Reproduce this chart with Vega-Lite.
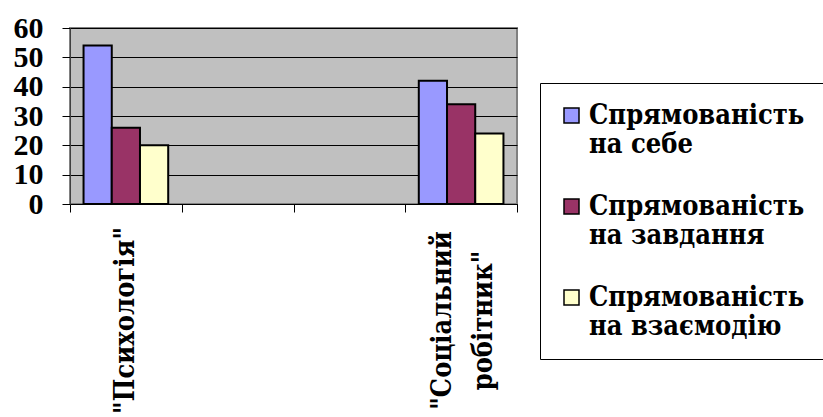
{
  "$schema": "https://vega.github.io/schema/vega-lite/v6.json",
  "width": 447,
  "height": 176,
  "autosize": {"type": "none"},
  "padding": {"left": 70, "top": 28, "right": 306, "bottom": 213},
  "background": "white",
  "data": {
    "values": [
      {"group": "\"Психологія\"", "series": "Спрямованість на себе", "value": 54},
      {"group": "\"Психологія\"", "series": "Спрямованість на завдання", "value": 26},
      {"group": "\"Психологія\"", "series": "Спрямованість на взаємодію", "value": 20},
      {"group": "\"Соціальний робітник\"", "series": "Спрямованість на себе", "value": 42},
      {"group": "\"Соціальний робітник\"", "series": "Спрямованість на завдання", "value": 34},
      {"group": "\"Соціальний робітник\"", "series": "Спрямованість на взаємодію", "value": 24}
    ]
  },
  "mark": {"type": "bar", "stroke": "black", "strokeWidth": 2, "strokeJoin": "miter"},
  "encoding": {
    "x": {
      "field": "group",
      "type": "nominal",
      "sort": null,
      "scale": {"domain": ["\"Психологія\"", "b1", "b2", "\"Соціальний робітник\""], "paddingInner": 0, "paddingOuter": 0},
      "axis": {
        "title": null,
        "tickBand": "extent",
        "tickSize": 8,
        "tickColor": "#000000",
        "domainColor": "#000000",
        "domainWidth": 1,
        "labelAngle": -90,
        "labelAlign": "center",
        "labelBaseline": "middle",
        "labelPadding": 108,
        "labelOffset": {"condition": {"test": "datum.value == '\"Соціальний робітник\"'", "value": -19}, "value": 0},
        "labelFont": "DejaVu Serif Condensed",
        "labelFontWeight": "bold",
        "labelFontSize": 27,
        "labelLineHeight": 41,
        "labelColor": "#000000",
        "labelLimit": 400,
        "labelOverlap": false,
        "labelExpr": "datum.value == 'b1' || datum.value == 'b2' ? '' : (datum.value == '\"Соціальний робітник\"' ? ['\"Соціальний', 'робітник\"'] : datum.value)"
      }
    },
    "xOffset": {
      "field": "series",
      "type": "nominal",
      "sort": ["Спрямованість на себе", "Спрямованість на завдання", "Спрямованість на взаємодію"],
      "scale": {"paddingInner": 0, "paddingOuter": 0.48}
    },
    "y": {
      "field": "value",
      "type": "quantitative",
      "scale": {"domain": [0, 60], "nice": false},
      "axis": {
        "title": null,
        "values": [0, 10, 20, 30, 40, 50, 60],
        "tickSize": 8,
        "tickColor": "#000000",
        "domainColor": "#404040",
        "grid": true,
        "gridColor": "#000000",
        "gridWidth": 1,
        "labelPadding": 19,
        "labelFont": "Liberation Serif",
        "labelFontWeight": "bold",
        "labelFontSize": 30,
        "labelColor": "#000000",
        "labelBaseline": "middle",
        "labelOverlap": false,
        "labelFlush": false
      }
    },
    "color": {
      "field": "series",
      "type": "nominal",
      "sort": ["Спрямованість на себе", "Спрямованість на завдання", "Спрямованість на взаємодію"],
      "scale": {"range": ["#9999FF", "#993366", "#FFFFCC"]},
      "legend": {
        "title": null,
        "orient": "none",
        "legendX": 470,
        "legendY": 55,
        "padding": 19,
        "strokeColor": "#000000",
        "fillColor": "#FFFFFF",
        "symbolType": "square",
        "symbolSize": 225,
        "symbolStrokeColor": "#000000",
        "symbolStrokeWidth": 1.5,
        "symbolOffset": -1,
        "labelOffset": 4,
        "labelFont": "DejaVu Serif Condensed",
        "labelFontWeight": "bold",
        "labelFontSize": 27,
        "labelColor": "#000000",
        "labelLimit": 400,
        "rowPadding": 34,
        "labelExpr": "[substring(datum.label, 0, indexof(datum.label, ' ')), substring(datum.label, indexof(datum.label, ' ') + 1)]"
      }
    }
  },
  "config": {
    "view": {"fill": "#C0C0C0", "stroke": "#808080", "strokeWidth": 2}
  }
}
